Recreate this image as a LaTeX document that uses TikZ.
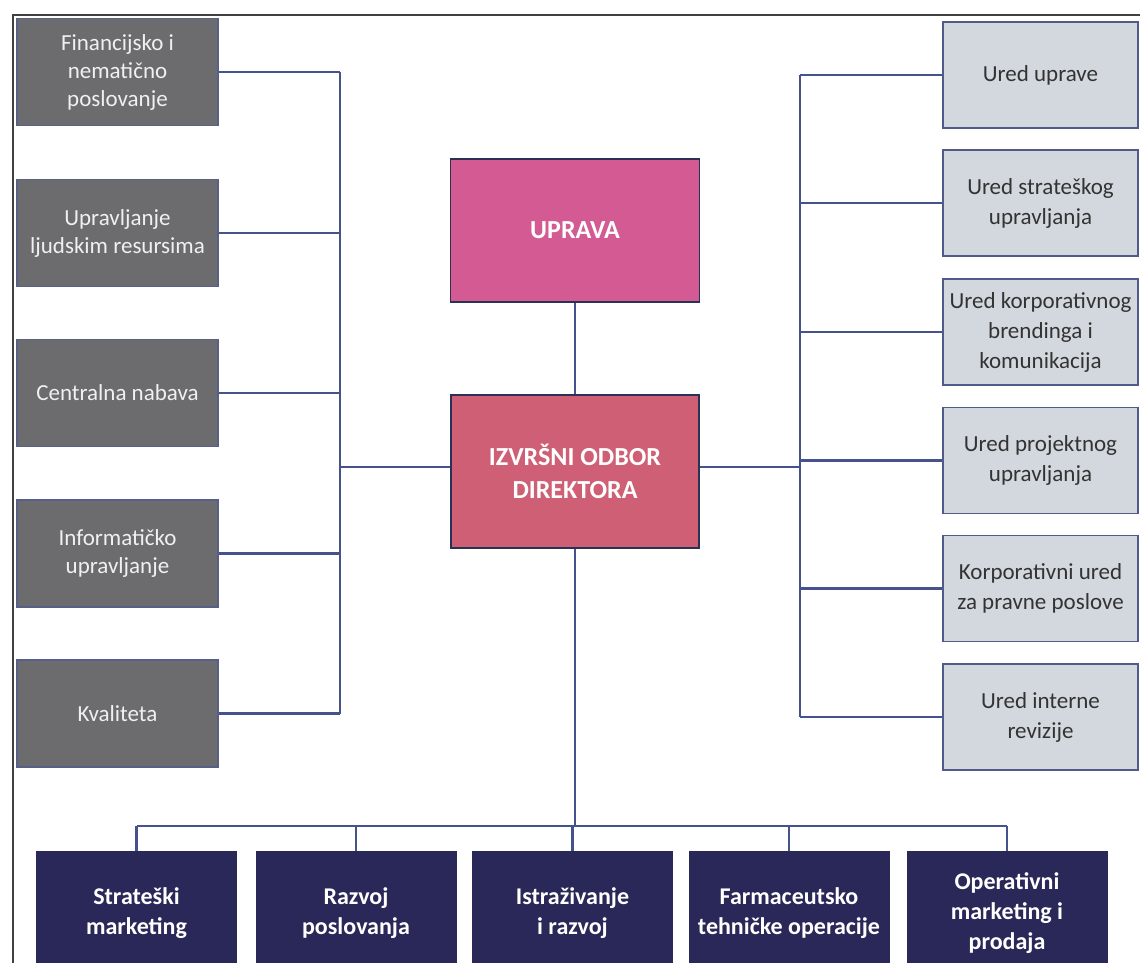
\documentclass[tikz,border=0pt]{standalone}
\usepackage{fontspec}
\setmainfont{Carlito}

\definecolor{linija}{HTML}{45528C}
\definecolor{sivo}{HTML}{6C6C6E}
\definecolor{svijetlo}{HTML}{D3D8DE}
\definecolor{ruza}{HTML}{D35A92}
\definecolor{crven}{HTML}{CF5F74}
\definecolor{tamno}{HTML}{2A2858}

\begin{document}
\begin{tikzpicture}[x=1pt,y=-1pt,
        sektor/.style={draw=linija!70!gray, line width=1.5pt, fill=sivo, text=white!88!gray,
            minimum width=201pt, minimum height=107pt, align=center,
            font=\fontsize{23}{28}\selectfont},
        ured/.style={draw=linija!80!gray, line width=1.5pt, fill=svijetlo, text=black!80,
            minimum width=195pt, minimum height=106pt, align=center,
            font=\fontsize{23}{30}\selectfont},
        glavni/.style={draw=linija!60!black, line width=1.5pt, text=white, align=center,
            minimum width=249pt, font=\bfseries\fontsize{26}{33}\selectfont},
        funkcija/.style={draw=tamno, fill=tamno, text=white, align=center,
            minimum width=200pt, minimum height=124pt,
            font=\bfseries\fontsize{24}{30}\selectfont},
        veza/.style={draw=linija, line width=2.2pt}]
    \useasboundingbox (0,0) rectangle (1140,963);
    \fill[white] (0,0) rectangle (1140,963);
    % okvir
    \draw[black!75, line width=1.5pt] (13,963) -- (13,15) -- (1140,15);
    % sredina
    \node[glavni, fill=ruza, minimum height=143pt] (uprava) at (575,230.5) {UPRAVA};
    \node[glavni, fill=crven, minimum height=153pt, minimum width=248pt] (odbor) at (575,471.5) {IZVRŠNI ODBOR\\DIREKTORA};
    % lijevo
    \node[sektor] (l1) at (117.5,72) {Financijsko i\\nematično\\poslovanje};
    \node[sektor] (l2) at (117.5,233) {Upravljanje\\ljudskim resursima};
    \node[sektor] (l3) at (117.5,393) {Centralna nabava};
    \node[sektor] (l4) at (117.5,553.5) {Informatičko\\upravljanje};
    \node[sektor] (l5) at (117.5,713.5) {Kvaliteta};
    % desno
    \node[ured] (r1) at (1040.5,75) {Ured uprave};
    \node[ured] (r2) at (1040.5,203) {Ured strateškog\\upravljanja};
    \node[ured] (r3) at (1040.5,332) {Ured korporativnog\\brendinga i\\komunikacija};
    \node[ured] (r4) at (1040.5,460.5) {Ured projektnog\\upravljanja};
    \node[ured] (r5) at (1040.5,588.5) {Korporativni ured\\za pravne poslove};
    \node[ured] (r6) at (1040.5,717) {Ured interne\\revizije};
    % dolje
    \node[funkcija] (b1) at (136.5,913) {Strateški\\marketing};
    \node[funkcija] (b2) at (356,913) {Razvoj\\poslovanja};
    \node[funkcija] (b3) at (572.5,913) {Istraživanje\\i razvoj};
    \node[funkcija] (b4) at (789,913) {Farmaceutsko\\tehničke operacije};
    \node[funkcija] (b5) at (1007,913) {Operativni\\marketing i\\prodaja};
    % sabirnice
    \coordinate (lbus) at (340,467);
    \coordinate (rbus) at (800,467);
    \coordinate (bbus) at (575,826);
    \path[veza] (uprava) -- (odbor);
    \path[veza] (odbor.west |- lbus) -- (lbus);
    \path[veza] (odbor.east |- rbus) -- (rbus);
    \path[veza] (l1.east -| lbus) -- (l5.east -| lbus);
    \foreach \n in {l1,l2,l3,l4,l5}
        \path[veza] (\n.east) -- (\n.east -| lbus);
    \path[veza] (r1.west -| rbus) -- (r6.west -| rbus);
    \foreach \n in {r1,r2,r3,r4,r5,r6}
        \path[veza] (\n.west) -- (\n.west -| rbus);
    \path[veza] (odbor.south) -- (bbus);
    \path[veza] (b1.north |- bbus) -- (b5.north |- bbus);
    \foreach \n in {b1,b2,b3,b4,b5}
        \path[veza] (\n.north |- bbus) -- (\n.north);
\end{tikzpicture}
\end{document}
